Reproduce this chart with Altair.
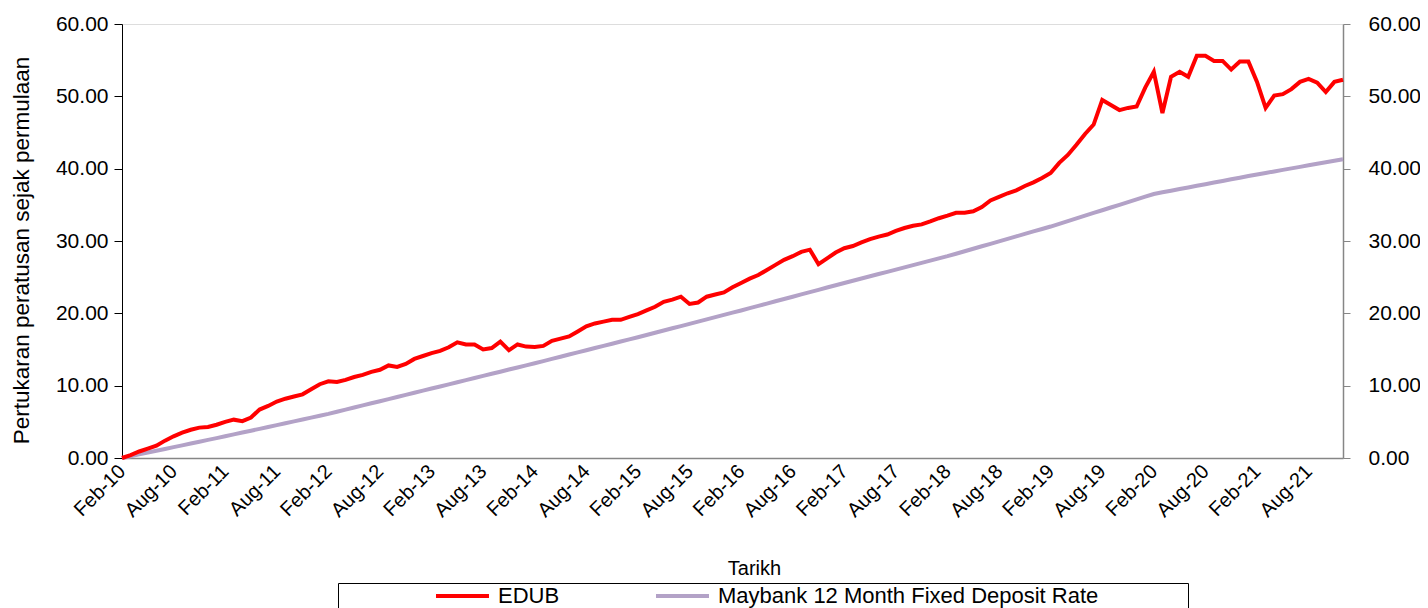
import altair as alt
import pandas as pd

# ---- category labels (monthly, Feb-10 .. Dec-21) ----
month_names = ["Jan", "Feb", "Mar", "Apr", "May", "Jun",
               "Jul", "Aug", "Sep", "Oct", "Nov", "Dec"]
months = []
for yr in range(10, 22):
    for mi, mn in enumerate(month_names):
        if yr == 10 and mi == 0:
            continue
        months.append(f"{mn}-{yr:02d}")

tick_labels = ["Feb-10", "Aug-10", "Feb-11", "Aug-11", "Feb-12", "Aug-12",
               "Feb-13", "Aug-13", "Feb-14", "Aug-14", "Feb-15", "Aug-15",
               "Feb-16", "Aug-16", "Feb-17", "Aug-17", "Feb-18", "Aug-18",
               "Feb-19", "Aug-19", "Feb-20", "Aug-20", "Feb-21", "Aug-21"]

y_ticks = [0, 10, 20, 30, 40, 50, 60]

series_names = ["EDUB", "Maybank 12 Month Fixed Deposit Rate"]
series_colors = ["#FF0000", "#B3A2C7"]

# ---- values ----
edub = [
    0.0, 0.4, 0.9, 1.3, 1.7, 2.4, 3.0, 3.5, 3.9, 4.2,
    4.3, 4.6, 5.0, 5.3, 5.1, 5.6, 6.7, 7.2, 7.8, 8.2,
    8.5, 8.8, 9.5, 10.2, 10.6, 10.5, 10.8, 11.2, 11.5, 11.9,
    12.2, 12.8, 12.6, 13.0, 13.7, 14.1, 14.5, 14.8, 15.3, 16.0,
    15.7, 15.7, 15.0, 15.2, 16.1, 14.9, 15.7, 15.4, 15.35, 15.5,
    16.2, 16.5, 16.8, 17.5, 18.2, 18.6, 18.85, 19.1, 19.1, 19.5,
    19.9, 20.4, 20.9, 21.6, 21.9, 22.3, 21.3, 21.5, 22.3, 22.6,
    22.9, 23.6, 24.2, 24.8, 25.3, 26.0, 26.7, 27.4, 27.9, 28.5,
    28.8, 26.8, 27.6, 28.4, 29.0, 29.3, 29.8, 30.25, 30.6, 30.9,
    31.4, 31.8, 32.1, 32.3, 32.7, 33.15, 33.5, 33.9, 33.9, 34.1,
    34.7, 35.6, 36.1, 36.6, 37.0, 37.6, 38.1, 38.7, 39.4, 40.8,
    41.9, 43.3, 44.8, 46.1, 49.5, 48.8, 48.1, 48.4, 48.6, 51.2,
    53.4, 47.7, 52.7, 53.4, 52.7, 55.6, 55.6, 54.9, 54.9, 53.7,
    54.8, 54.8, 52.0, 48.4, 50.1, 50.3, 51.0, 52.0, 52.4, 51.9,
    50.6, 52.0, 52.3,
]

maybank = [
    0.0, 0.25, 0.5, 0.75, 1.0, 1.25, 1.5, 1.75, 2.0, 2.25,
    2.5, 2.75, 3.0, 3.26, 3.52, 3.77, 4.03, 4.29, 4.55, 4.81,
    5.06, 5.32, 5.58, 5.84, 6.1, 6.39, 6.68, 6.98, 7.27, 7.56,
    7.85, 8.14, 8.43, 8.73, 9.02, 9.31, 9.6, 9.89, 10.18, 10.48,
    10.77, 11.06, 11.35, 11.64, 11.93, 12.23, 12.52, 12.81, 13.1, 13.4,
    13.7, 14.0, 14.3, 14.6, 14.9, 15.2, 15.5, 15.8, 16.1, 16.4,
    16.7, 17.01, 17.32, 17.62, 17.93, 18.24, 18.55, 18.86, 19.17, 19.47,
    19.78, 20.09, 20.4, 20.72, 21.03, 21.35, 21.67, 21.98, 22.3, 22.62,
    22.93, 23.25, 23.57, 23.88, 24.2, 24.51, 24.82, 25.12, 25.43, 25.74,
    26.05, 26.36, 26.67, 26.97, 27.28, 27.59, 27.9, 28.24, 28.58, 28.93,
    29.27, 29.61, 29.95, 30.29, 30.63, 30.98, 31.32, 31.66, 32.0, 32.38,
    32.75, 33.13, 33.5, 33.88, 34.25, 34.63, 35.0, 35.38, 35.75, 36.13,
    36.5, 36.73, 36.95, 37.18, 37.4, 37.63, 37.85, 38.08, 38.3, 38.53,
    38.75, 38.98, 39.2, 39.41, 39.62, 39.83, 40.04, 40.25, 40.46, 40.67,
    40.88, 41.09, 41.3,
]

df_edub = pd.DataFrame({"month": months, "value": edub, "series": series_names[0]})
df_may = pd.DataFrame({"month": months, "value": maybank, "series": series_names[1]})

FONT = "Liberation Sans"

x_enc = alt.X(
    "month:O",
    sort=months,
    scale=alt.Scale(type="point", padding=0),
    axis=alt.Axis(
        values=tick_labels,
        labelAngle=-45,
        labelAlign="right",
        labelBaseline="middle",
        labelPadding=10,
        labelFontSize=20,
        labelOverlap=False,
        ticks=False,
        grid=False,
        domainColor="#868686",
        domainWidth=1.5,
        title="Tarikh",
        titleFontSize=20,
        titleFontWeight="normal",
        titleX=632,
        titleY=110,
        titleBaseline="middle",
    ),
)

color_enc = alt.Color(
    "series:N",
    scale=alt.Scale(domain=series_names, range=series_colors),
    legend=alt.Legend(
        title=" ",
        titleOrient="right",
        titlePadding=88,
        titleFontSize=4,
        orient="none",
        legendX=216,
        legendY=559,
        direction="horizontal",
        symbolType="M2.547,0H4.547",
        symbolSize=2809,
        symbolStrokeWidth=4,
        clipHeight=22,
        labelFontSize=22,
        labelOffset=101,
        labelLimit=0,
        columnPadding=0,
        padding=2,
        strokeColor="black",
    ),
)

y_scale = alt.Scale(domain=[0, 60], nice=False)

red = alt.Chart(df_edub).mark_line(strokeWidth=4).encode(
    x=x_enc,
    y=alt.Y(
        "value:Q",
        scale=y_scale,
        axis=alt.Axis(
            orient="left",
            values=y_ticks,
            format=".2f",
            grid=False,
            domainColor="black",
            tickColor="black",
            tickSize=8,
            labelPadding=6,
            labelFontSize=21,
            title="Pertukaran peratusan sejak permulaan",
            titleFontSize=22.5,
            titleFontWeight="normal",
            titlePadding=22,
            titleY=226,
        ),
    ),
    color=color_enc,
)

lav = alt.Chart(df_may).mark_line(strokeWidth=4).encode(
    x=x_enc,
    y=alt.Y(
        "value:Q",
        scale=y_scale,
        axis=alt.Axis(
            orient="right",
            values=y_ticks,
            format=".2f",
            grid=False,
            domainColor="#868686",
            domainWidth=1.5,
            tickColor="#868686",
            tickSize=7,
            labelPadding=18,
            labelFontSize=21,
            title=None,
        ),
    ),
    color=color_enc,
)

chart = (
    alt.layer(lav, red)
    .resolve_axis(y="independent")
    .properties(
        width=1221,
        height=434,
        padding={"left": 114, "top": 16, "right": 77, "bottom": 150},
        autosize=alt.AutoSizeParams(type="none"),
    )
    .configure_view(stroke="transparent", strokeWidth=0)
    .configure(font=FONT)
    .configure_axis(labelColor="black", titleColor="black", labelFont=FONT, titleFont=FONT, grid=False)
    .configure_legend(labelFont=FONT, labelColor="black", titleFont=FONT)
)

chart.save("out.html", embed_options={"renderer": "svg", "actions": False})
